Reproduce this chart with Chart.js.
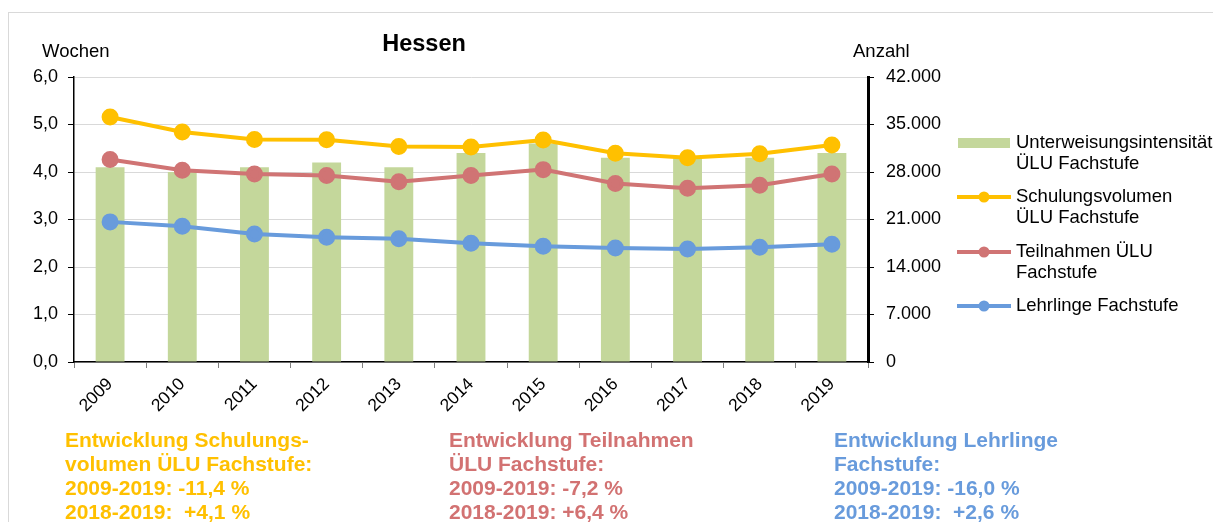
<!DOCTYPE html>
<html>
<head>
<meta charset="utf-8">
<script src="https://cdn.jsdelivr.net/npm/chart.js@4"></script>
<style>
  html, body { margin: 0; padding: 0; background: #fff; }
  #wrap { position: relative; width: 1213px; height: 522px; overflow: hidden; }
  #frame { position: absolute; left: 8px; top: 12px; right: -2px; bottom: -2px;
           border-top: 1px solid #d9d9d9; border-left: 1px solid #d9d9d9; }
  canvas { position: absolute; left: 0; top: 0; }
  .note { position: absolute; top: 428px; font-family: "Liberation Sans", Arial, sans-serif;
          font-weight: bold; font-size: 21px; line-height: 24px; white-space: pre; }
</style>
</head>
<body>
<div id="wrap">
  <div id="frame"></div>
  <canvas id="chart" width="1213" height="522"></canvas>
  <div class="note" id="n1" style="left:65px;color:#ffc000"></div>
  <div class="note" id="n2" style="left:449px;color:#d27272"></div>
  <div class="note" id="n3" style="left:834px;color:#689bdc"></div>
</div>
<script>
// Daten
var years = ['2009', '2010', '2011', '2012', '2013', '2014', '2015', '2016', '2017', '2018', '2019'];
var intensitaet = [4.1, 4.0, 4.1, 4.2, 4.1, 4.4, 4.6, 4.3, 4.3, 4.3, 4.4];          // Wochen
var schulungsvolumen = [36100, 33900, 32800, 32750, 31750, 31700, 32700, 30750, 30100, 30700, 31990]; // Anzahl
var teilnahmen = [29850, 28250, 27700, 27500, 26550, 27500, 28350, 26300, 25600, 26050, 27700];
var lehrlinge = [20650, 20000, 18850, 18400, 18150, 17500, 17050, 16800, 16650, 16900, 17350];
var leftTicks = [0, 1, 2, 3, 4, 5, 6];
var rightTicks = [0, 7000, 14000, 21000, 28000, 35000, 42000];

var notes = [
    'Entwicklung Schulungs-\nvolumen ÜLU Fachstufe:\n2009-2019: -11,4 %\n2018-2019:  +4,1 %',
    'Entwicklung Teilnahmen\nÜLU Fachstufe:\n2009-2019: -7,2 %\n2018-2019: +6,4 %',
    'Entwicklung Lehrlinge\nFachstufe:\n2009-2019: -16,0 %\n2018-2019:  +2,6 %'
];
document.getElementById('n1').textContent = notes[0];
document.getElementById('n2').textContent = notes[1];
document.getElementById('n3').textContent = notes[2];

var FONT = '"Liberation Sans", Arial, sans-serif';
Chart.defaults.font.family = FONT;
Chart.defaults.color = '#000';

function fmtThousand(v) {
    var s = String(Math.round(v));
    return s.replace(/\B(?=(\d{3})+(?!\d))/g, '.');
}

// Legende, Titel und Achsentitel
var extras = {
    id: 'extras',
    afterDraw: function(chart) {
        var ctx = chart.ctx;
        ctx.save();
        ctx.fillStyle = '#000';
        ctx.textBaseline = 'middle';
        ctx.font = 'bold 23.5px ' + FONT;
        ctx.textAlign = 'center';
        ctx.fillText('Hessen', 424, 45);
        ctx.font = '18.5px ' + FONT;
        ctx.textAlign = 'left';
        ctx.fillText('Wochen', 42, 52);
        ctx.fillText('Anzahl', 853, 52);

        var rows = [
            { ds: 0, y: 143, lines: ['Unterweisungsintensität', 'ÜLU Fachstufe'] },
            { ds: 1, y: 197, lines: ['Schulungsvolumen', 'ÜLU Fachstufe'] },
            { ds: 2, y: 252, lines: ['Teilnahmen ÜLU', 'Fachstufe'] },
            { ds: 3, y: 306, lines: ['Lehrlinge Fachstufe'] }
        ];
        rows.forEach(function(r) {
            var ds = chart.data.datasets[r.ds];
            if (ds.type === 'bar') {
                ctx.fillStyle = ds.backgroundColor;
                ctx.fillRect(958, r.y - 5, 52, 10);
            } else {
                ctx.strokeStyle = ds.borderColor;
                ctx.lineWidth = ds.borderWidth;
                ctx.beginPath();
                ctx.moveTo(957, r.y);
                ctx.lineTo(1011, r.y);
                ctx.stroke();
                ctx.fillStyle = ds.pointBackgroundColor;
                ctx.beginPath();
                ctx.arc(984, r.y, 5.5, 0, Math.PI * 2);
                ctx.fill();
            }
            ctx.fillStyle = '#000';
            ctx.font = '18.5px ' + FONT;
            r.lines.forEach(function(t, i) {
                ctx.fillText(t, 1016, r.y + i * 21);
            });
        });
        ctx.restore();
    }
};

var ctx = document.getElementById('chart').getContext('2d');
var myChart = new Chart(ctx, {
    data: {
        labels: years,
        datasets: [{
            type: 'bar',
            label: 'Unterweisungsintensität ÜLU Fachstufe',
            data: intensitaet,
            backgroundColor: '#c4d79b',
            barPercentage: 0.4,
            categoryPercentage: 1.0,
            yAxisID: 'y',
            order: 5
        }, {
            type: 'line',
            label: 'Schulungsvolumen ÜLU Fachstufe',
            data: schulungsvolumen,
            borderColor: '#ffc000',
            backgroundColor: '#ffc000',
            pointBackgroundColor: '#ffc000',
            pointBorderColor: '#ffc000',
            borderWidth: 4,
            pointRadius: 6.5,
            tension: 0,
            yAxisID: 'y1',
            order: 3
        }, {
            type: 'line',
            label: 'Teilnahmen ÜLU Fachstufe',
            data: teilnahmen,
            borderColor: '#d07474',
            backgroundColor: '#d07474',
            pointBackgroundColor: '#d07474',
            pointBorderColor: '#d07474',
            borderWidth: 4,
            pointRadius: 6.5,
            tension: 0,
            yAxisID: 'y1',
            order: 2
        }, {
            type: 'line',
            label: 'Lehrlinge Fachstufe',
            data: lehrlinge,
            borderColor: '#689bdc',
            backgroundColor: '#689bdc',
            pointBackgroundColor: '#689bdc',
            pointBorderColor: '#689bdc',
            borderWidth: 4,
            pointRadius: 6.5,
            tension: 0,
            yAxisID: 'y1',
            order: 1
        }]
    },
    options: {
        responsive: false,
        animation: false,
        layout: { padding: { left: 0, right: 265, top: 77, bottom: 100 } },
        plugins: {
            legend: { display: false },
            title: { display: false },
            tooltip: { enabled: false }
        },
        scales: {
            x: {
                offset: true,
                grid: { offset: true, drawOnChartArea: false, tickLength: 6, tickColor: '#808080' },
                border: { color: '#000', width: 1.5 },
                ticks: { font: { size: 17.5 }, minRotation: 45, maxRotation: 45, padding: 6 },
                afterFit: function(s) { s.height = 60; }
            },
            y: {
                position: 'left',
                min: 0, max: 6,
                afterBuildTicks: function(s) { s.ticks = leftTicks.map(function(v) { return { value: v }; }); },
                grid: { color: '#d9d9d9', tickColor: '#000', tickLength: 6 },
                border: { color: '#000', width: 1.5 },
                ticks: {
                    font: { size: 18 }, padding: 10,
                    callback: function(v) { return v.toFixed(1).replace('.', ','); }
                },
                afterFit: function(s) { s.width = 74; }
            },
            y1: {
                position: 'right',
                min: 0, max: 42000,
                afterBuildTicks: function(s) { s.ticks = rightTicks.map(function(v) { return { value: v }; }); },
                grid: { drawOnChartArea: false, tickColor: '#000', tickLength: 6 },
                border: { color: '#000', width: 3 },
                ticks: {
                    font: { size: 18 }, padding: 12,
                    callback: function(v) { return fmtThousand(v); }
                },
                afterFit: function(s) { s.width = 80; }
            }
        }
    },
    plugins: [extras]
});
</script>
</body>
</html>
